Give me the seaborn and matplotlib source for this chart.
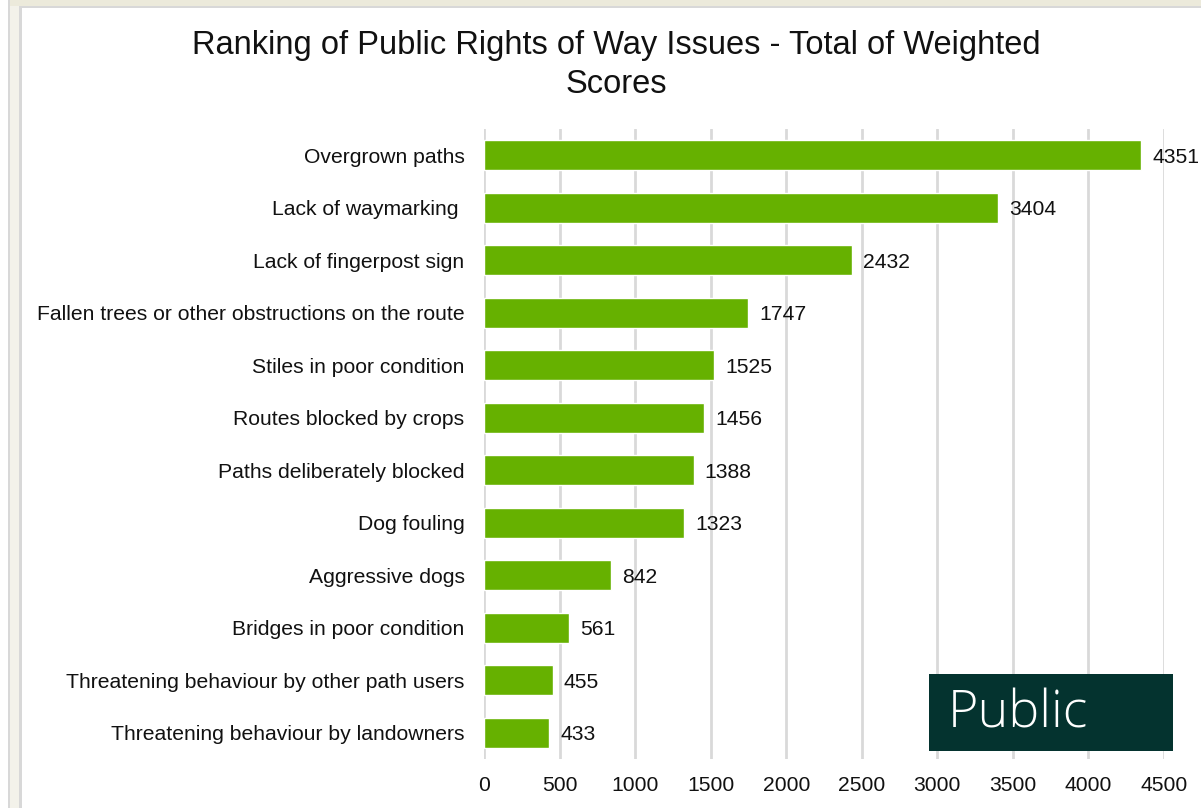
import matplotlib
matplotlib.use("Agg")
import matplotlib.pyplot as plt
import seaborn as sns
import pandas as pd
from matplotlib.patches import Rectangle

categories = [
    "Overgrown paths",
    "Lack of waymarking ",
    "Lack of fingerpost sign",
    "Fallen trees or other obstructions on the route",
    "Stiles in poor condition",
    "Routes blocked by crops",
    "Paths deliberately blocked",
    "Dog fouling",
    "Aggressive dogs",
    "Bridges in poor condition",
    "Threatening behaviour by other path users",
    "Threatening behaviour by landowners",
]
scores = [4351, 3404, 2432, 1747, 1525, 1456, 1388, 1323, 842, 561, 455, 433]
x_ticks = [0, 500, 1000, 1500, 2000, 2500, 3000, 3500, 4000, 4500]
title = "Ranking of Public Rights of Way Issues - Total of Weighted\nScores"

df = pd.DataFrame({"issue": categories, "score": scores})

sns.set_theme(style="white")
plt.rcParams["font.family"] = ["Liberation Sans", "DejaVu Sans"]

W, H = 1201, 808
fig = plt.figure(figsize=(W / 100, H / 100), dpi=100)
fig.patch.set_facecolor("white")

# screenshot frame
fig.add_artist(Rectangle((0, 0), 20 / W, 1, transform=fig.transFigure,
                         facecolor="#F3F2EA", edgecolor="none", zorder=0))
fig.add_artist(Rectangle((0, 1 - 6 / H), 1, 6 / H, transform=fig.transFigure,
                         facecolor="#ECEADB", edgecolor="none", zorder=0))
fig.add_artist(Rectangle((0, 0), 9 / W, 1, transform=fig.transFigure,
                         facecolor="white", edgecolor="none", zorder=0))
fig.add_artist(Rectangle((8 / W, 0), 2 / W, 1, transform=fig.transFigure,
                         facecolor="#D8D8D8", edgecolor="none", zorder=0))
fig.add_artist(Rectangle((19 / W, 0), 2.5 / W, 1 - 6 / H, transform=fig.transFigure,
                         facecolor="#D8D8D8", edgecolor="none", zorder=0))
fig.add_artist(Rectangle((19 / W, 1 - 8 / H), 1, 2.5 / H, transform=fig.transFigure,
                         facecolor="#D8D8D8", edgecolor="none", zorder=0))

ax = fig.add_axes([484 / W, 49 / H, 680 / W, 630 / H])
sns.barplot(data=df, x="score", y="issue", orient="h", color="#66B100",
            saturation=1, width=0.57, ax=ax, zorder=3)

ax.set_xlim(0, 4500)
ax.set_xticks(x_ticks)
ax.set_xticklabels([str(t) for t in x_ticks], fontsize=15.2, color="#111111")
ax.tick_params(axis="x", length=0, pad=12)
ax.tick_params(axis="y", length=0, pad=14, labelsize=15.2, labelcolor="#111111")
ax.set_xlabel("")
ax.set_ylabel("")
ax.grid(axis="x", color="#D9D9D9", linewidth=2, zorder=0)
ax.grid(axis="y", visible=False)
for s in ax.spines.values():
    s.set_visible(False)

for container in ax.containers:
    texts = ax.bar_label(container, labels=[str(v) for v in scores], padding=8,
                         fontsize=15.2, color="#111111", clip_on=False)
    for t in texts:
        t.set_va("center_baseline")

fig.text(616 / W, 1 - 65 / H, title, ha="center", va="center",
         fontsize=23.5, color="#111111", linespacing=1.3)

# "Public" badge
fig.add_artist(Rectangle((929 / W, 1 - 751 / H), 244 / W, 77 / H,
                         transform=fig.transFigure, facecolor="#04332F",
                         edgecolor="none", zorder=10))
fig.text(948 / W, 1 - 714 / H, "Public", ha="left", va="center",
         fontsize=37.5, color="white", fontweight="light",
         family=["Open Sans", "DejaVu Sans"], zorder=11)

fig.savefig("out.png", dpi=100)
